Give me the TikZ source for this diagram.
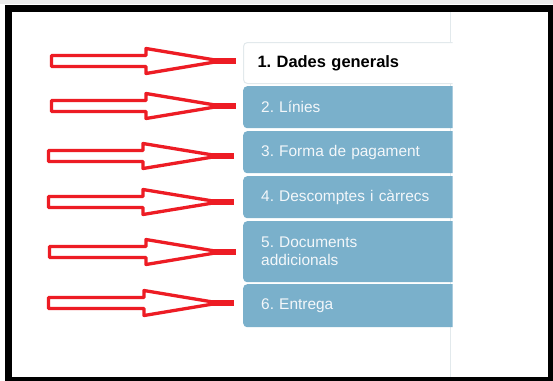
\documentclass[tikz,border=0pt]{standalone}
\usepackage{fontspec}
\setmainfont{Liberation Sans}
\frenchspacing
\definecolor{tabblue}{RGB}{122,176,203}
\definecolor{tabtext}{RGB}{243,247,250}
\definecolor{arrowred}{RGB}{237,28,36}
\definecolor{faint}{RGB}{226,233,236}
\newcommand\redarrow[4]{%
  \draw[arrowline] (#1,#4-5.5) -- (#2,#4-5.5) -- (#2,#4-12.5) -- (#3-15,#4)
     -- (#2,#4+12.5) -- (#2,#4+5.5) -- (#1,#4+5.5) -- cycle;
  \draw[arrowred, line width=6.5] (#3-22,#4) -- (#3,#4);}
\begin{document}
\frenchspacing
\begin{tikzpicture}[x=1bp,y=-1bp,
  tabbase/.style={anchor=north west, minimum width=225bp, rounded corners=4bp,
     align=left, inner ysep=0pt},
  bluetab/.style={tabbase, fill=tabblue, text=tabtext, inner xsep=18bp, text width=189bp,
     font=\fontsize{15.5}{18}\selectfont},
  whitetab/.style={tabbase, fill=white, draw=faint, line width=1bp, text=black, inner xsep=14bp,
     text width=197bp, font=\fontsize{16.5}{18}\selectfont\bfseries},
  arrowline/.style={draw=arrowred, fill=white, line width=3.3bp, line join=round}]
\useasboundingbox (0,0) rectangle (553,380);
\clip (0,0) rectangle (553,380);
\fill[white] (0,0) rectangle (553,380);
\fill[black!8] (0,0) rectangle (553,4);
\draw[faint, line width=1bp] (450.5,10) -- (450.5,378);
\begin{scope}
  \clip (0,0) rectangle (452.5,380);
  \node[whitetab, minimum height=41bp] (t1) at (243,42) {1. Dades generals};
  \node[bluetab, minimum height=42bp] (t2) at (243,86) {2. Línies};
  \node[bluetab, minimum height=42bp] (t3) at (243,131) {3. Forma de pagament};
  \node[bluetab, minimum height=42bp] (t4) at (243,176) {4. Descomptes i càrrecs};
  \node[bluetab, minimum height=61bp] (t5) at (243,221) {5. Documents\\addicionals};
  \node[bluetab, minimum height=43bp] (t6) at (243,284) {6. Entrega};
\end{scope}
\redarrow{51.5}{146}{236}{61}
\redarrow{51.5}{146}{236}{106}
\redarrow{48.5}{143}{234}{156}
\redarrow{48.5}{143}{234}{202}
\redarrow{49.5}{146}{236}{252}
\redarrow{48.5}{144}{234}{303}
\draw[black, line width=7bp] (8.5,8) rectangle (551.5,380.5);
\end{tikzpicture}
\end{document}
